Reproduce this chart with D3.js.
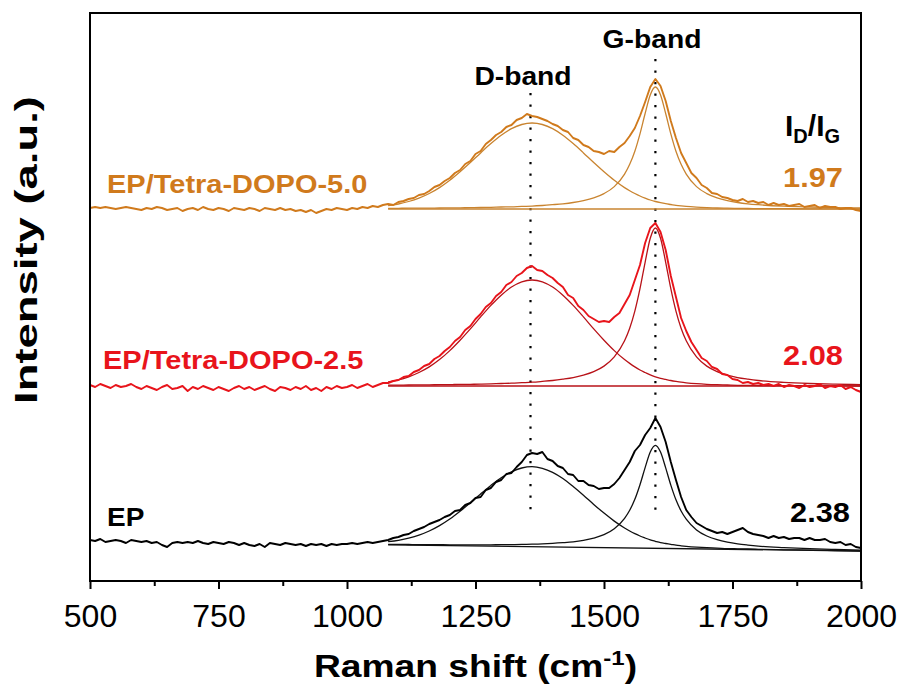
<!DOCTYPE html>
<html>
<head>
<meta charset="utf-8">
<script src="https://cdn.jsdelivr.net/npm/d3@7"></script>
<style>
  body { margin: 0; background: #fff; }
  svg { display: block; font-family: "Liberation Sans", Arial, sans-serif; }
</style>
</head>
<body>
<svg id="chart" width="901" height="684"></svg>
<script>
// Raman spectra, read every 10 cm-1 from 500 to 2000 (a.u., relative to each trace's own baseline)
var shift = d3.range(500, 2001, 10);

var dataEP = [
  8, 7, 9, 6, 7, 8, 7, 5, 8, 7,
  6, 7, 5, 6, 3, 1, 5, 6, 5, 6,
  5, 7, 5, 4, 6, 5, 4, 6, 5, 3,
  5, 3, 2, 4, 1, 5, 4, 3, 5, 4,
  3, 4, 2, 4, 3, 4, 2, 4, 3, 4,
  4, 5, 4, 5, 6, 5, 6, 7, 8, 10,
  11, 13, 14, 17, 19, 21, 24, 26, 28, 31,
  33, 37, 38, 43, 45, 50, 51, 58, 60, 66,
  68, 74, 75, 81, 86, 93, 95, 94, 96, 89,
  87, 82, 80, 74, 73, 67, 67, 63, 62, 59,
  60, 60, 64, 70, 78, 86, 97, 103, 113, 120,
  130, 121, 106, 86, 68, 51, 38, 31, 25, 22,
  19, 17, 15, 16, 14, 16, 18, 20, 16, 14,
  13, 12, 10, 12, 10, 11, 9, 10, 10, 8,
  10, 8, 8, 9, 6, 5, 6, 3, 4, 1,
  0];

var dataTetra25 = [
  1, -1, 2, 0, -2, 1, -1, 0, 2, -1,
  -3, 0, -2, -4, -1, 1, -3, -2, 0, -5,
  -1, -3, 0, -2, -4, -1, -3, -5, -2, 0,
  -3, -1, -4, -2, 0, -3, -5, -1, -2, -4,
  -1, -3, 0, -4, -2, -5, -1, -3, 0, -2,
  -1, 1, -2, 0, 2, -1, 1, 3, 3, 5,
  6, 9, 10, 14, 16, 20, 22, 27, 30, 35,
  39, 45, 49, 56, 60, 67, 72, 79, 83, 90,
  94, 101, 104, 110, 113, 118, 120, 116, 115, 111,
  108, 103, 99, 91, 88, 80, 76, 70, 67, 64,
  65, 64, 69, 73, 82, 91, 106, 121, 143, 158,
  163, 154, 136, 110, 89, 68, 55, 44, 36, 28,
  25, 19, 17, 12, 11, 7, 6, 3, 4, 2,
  3, 1, 2, 0, 2, -1, 1, 0, -2, 1,
  -1, 0, 2, -2, 0, -1, 1, -3, -1, -4,
  -6];

var dataTetra50 = [
  1, 2, 1, 2, 1, 0, 1, 2, 1, 0,
  -1, 1, 0, 2, 1, -1, 0, 1, -2, 0,
  1, -1, 2, 0, -1, 1, 0, -2, 1, 0,
  -1, 1, 0, -2, 1, 0, -1, 1, -1, 0,
  -2, -1, -3, -1, -4, -2, 0, -1, 1, 0,
  -1, 1, 0, 2, 1, 3, 2, 4, 5, 4,
  7, 8, 10, 11, 14, 15, 18, 22, 24, 28,
  31, 36, 39, 45, 48, 55, 58, 65, 69, 74,
  77, 82, 84, 89, 91, 95, 93, 92, 90, 88,
  85, 83, 79, 77, 71, 69, 64, 62, 58, 57,
  55, 58, 57, 62, 66, 73, 81, 93, 107, 122,
  130, 123, 108, 88, 71, 56, 46, 36, 31, 24,
  21, 16, 15, 12, 11, 9, 8, 10, 7, 8,
  6, 7, 4, 6, 4, 5, 3, 4, 5, 2,
  3, 4, 1, 3, 2, 2, 0, 1, 1, -1,
  -2];

// fitted D and G components
var fitShift = [1080, 1100, 1120, 1140, 1160, 1180, 1200, 1220, 1240, 1260, 1280, 1300,
  1320, 1340, 1360, 1380, 1400, 1420, 1440, 1460, 1480, 1500, 1520, 1540,
  1550, 1560, 1570, 1580, 1590, 1600, 1610, 1620, 1630, 1640, 1650, 1660,
  1680, 1700, 1720, 1740, 1760, 1780, 1800, 1850, 1900, 1950, 2000];

var fitD_EP = [6.3, 7.6, 9.9, 12.9, 17.0, 22.4, 29.0, 36.8, 45.2, 54.1, 62.6, 70.3,
  76.2, 80.0, 81.3, 79.7, 75.7, 69.5, 61.5, 52.8, 43.6, 34.9, 26.9, 20.0,
  17.0, 14.3, 12.0, 10.0, 8.1, 6.7, 5.4, 4.5, 3.7, 2.8, 2.2, 1.7,
  0.9, 0.3, -0.1, -0.6, -0.8, -1.0, -1.3, -1.8, -2.1, -2.6, -3.0];
var fitG_EP = [3.6, 3.6, 3.5, 3.4, 3.4, 3.3, 3.2, 3.2, 3.2, 3.1, 3.2, 3.3,
  3.4, 3.6, 3.8, 4.1, 4.6, 5.3, 6.2, 7.7, 9.9, 13.3, 19.2, 29.6,
  37.7, 48.7, 63.3, 80.4, 96.0, 102.7, 95.9, 80.1, 62.9, 48.2, 37.0, 28.8,
  18.1, 12.0, 8.3, 5.8, 4.1, 2.9, 1.9, 0.4, -0.7, -1.5, -2.1];

var fitD_25 = [4.2, 6.1, 9.2, 13.5, 19.1, 26.4, 35.4, 45.8, 57.1, 69.1, 80.6, 90.8,
  99.0, 104.2, 106, 104.2, 99.0, 90.8, 80.6, 69.1, 57.1, 45.8, 35.4, 26.4,
  22.6, 19.1, 16.0, 13.5, 11.1, 9.2, 7.7, 6.6, 5.5, 4.6, 3.8, 3.2,
  2.3, 1.7, 1.3, 1.0, 0.7, 0.6, 0.5, 0.3, 0.2, 0.1, 0];
var fitG_25 = [0.8, 0.9, 1.0, 1.1, 1.2, 1.3, 1.4, 1.6, 1.7, 1.9, 2.2, 2.5,
  2.8, 3.3, 3.8, 4.6, 5.5, 6.8, 8.4, 10.9, 14.4, 19.9, 29.1, 45.2,
  57.8, 74.9, 97.3, 123.7, 147.7, 158, 147.7, 123.7, 97.3, 74.9, 57.8, 45.2,
  29.1, 19.9, 14.4, 10.9, 8.4, 6.8, 5.5, 3.6, 2.5, 1.8, 1.4];

var fitD_50 = [3.4, 5.0, 7.5, 10.9, 15.5, 21.4, 28.7, 37.2, 46.4, 56.1, 65.4, 73.7,
  80.3, 84.5, 86, 84.5, 80.3, 73.7, 65.4, 56.1, 46.4, 37.2, 28.7, 21.4,
  18.3, 15.5, 13.0, 10.9, 9.0, 7.5, 6.3, 5.3, 4.5, 3.7, 3.1, 2.6,
  1.9, 1.4, 1.0, 0.8, 0.6, 0.5, 0.4, 0.3, 0.2, 0.1, 0];
var fitG_50 = [0.6, 0.7, 0.8, 0.8, 0.9, 1.0, 1.1, 1.2, 1.3, 1.5, 1.7, 2.0,
  2.2, 2.6, 2.9, 3.5, 4.3, 5.2, 6.5, 8.4, 11.1, 15.4, 22.4, 34.9,
  44.7, 57.8, 75.2, 95.5, 114.1, 122, 114.1, 95.5, 75.2, 57.8, 44.7, 34.9,
  22.4, 15.4, 11.1, 8.4, 6.5, 5.2, 4.3, 2.8, 2.0, 1.4, 1.1];

// fitted linear baselines (start / end of fit range)
var baseShift = [1080, 2000];
var base_EP = [3.1, -3.0];
var base_25 = [0, 0];
var base_50 = [0, 0];

var sampleNames = ["EP", "EP/Tetra-DOPO-2.5", "EP/Tetra-DOPO-5.0"];
var ratioLabels = ["2.38", "2.08", "1.97"];
var stackOffset = [33, 195, 372];
var bandNames = ["D-band", "G-band"];
var bandCenters = [1357, 1600];
var xTicks = [500, 750, 1000, 1250, 1500, 1750, 2000];
var xMinorTicks = [625, 875, 1125, 1375, 1625, 1875];

var dataColor = ["#000000", "#E8141B", "#D07A1C"];
var fitColor = ["#111111", "#B81218", "#C98430"];

var svg = d3.select("#chart");
var mLeft = 90, mTop = 13, mRight = 861, mBottom = 581;

var x = d3.scaleLinear().domain([500, 2000]).range([mLeft, mRight]);
var y = d3.scaleLinear().domain([0, 568]).range([mBottom, mTop]);

var series = [
  {data: dataEP, fitD: fitD_EP, fitG: fitG_EP, base: base_EP},
  {data: dataTetra25, fitD: fitD_25, fitG: fitG_25, base: base_25},
  {data: dataTetra50, fitD: fitD_50, fitG: fitG_50, base: base_50}
];

// dotted band markers
svg.append("line")
  .attr("x1", x(bandCenters[0])).attr("x2", x(bandCenters[0]))
  .attr("y1", 93).attr("y2", 512)
  .attr("stroke", "#000").attr("stroke-width", 2.2).attr("stroke-dasharray", "2.2,9.3");
svg.append("line")
  .attr("x1", x(bandCenters[1])).attr("x2", x(bandCenters[1]))
  .attr("y1", 59).attr("y2", 512)
  .attr("stroke", "#000").attr("stroke-width", 2.2).attr("stroke-dasharray", "2.2,9.3");

series.forEach(function(s, i){
  var off = stackOffset[i];

  var fitLine = d3.line()
    .x(function(d, j){ return x(fitShift[j]); })
    .y(function(d){ return y(d + off); })
    .curve(d3.curveMonotoneX);

  // baseline
  svg.append("path")
    .datum(s.base)
    .attr("d", d3.line().x(function(d, j){ return x(baseShift[j]); }).y(function(d){ return y(d + off); }))
    .attr("fill", "none").attr("stroke", fitColor[i]).attr("stroke-width", 1.3);

  svg.append("path").datum(s.fitD).attr("d", fitLine)
    .attr("fill", "none").attr("stroke", fitColor[i]).attr("stroke-width", 1.3);
  svg.append("path").datum(s.fitG).attr("d", fitLine)
    .attr("fill", "none").attr("stroke", fitColor[i]).attr("stroke-width", 1.3);

  // measured spectrum
  svg.append("path")
    .datum(s.data)
    .attr("d", d3.line()
      .x(function(d, j){ return x(shift[j]); })
      .y(function(d){ return y(d + off); }))
    .attr("fill", "none").attr("stroke", dataColor[i]).attr("stroke-width", 1.9)
    .attr("stroke-linejoin", "round");
});

// frame
svg.append("rect")
  .attr("x", mLeft).attr("y", mTop).attr("width", mRight - mLeft).attr("height", mBottom - mTop)
  .attr("fill", "none").attr("stroke", "#000").attr("stroke-width", 2);

// x axis
var xAxis = svg.append("g")
  .attr("transform", "translate(0," + mBottom + ")")
  .call(d3.axisBottom(x).tickValues(xTicks).tickSize(8).tickSizeOuter(0).tickFormat(d3.format("d")));
xAxis.select(".domain").remove();
xAxis.selectAll("line").attr("stroke-width", 2);
xAxis.selectAll("text")
  .attr("y", 46).attr("dy", 0)
  .attr("font-size", 32).attr("font-family", "'Liberation Sans', Arial, sans-serif").attr("fill", "#000");

var xMinor = svg.append("g")
  .attr("transform", "translate(0," + mBottom + ")")
  .call(d3.axisBottom(x).tickValues(xMinorTicks).tickSize(5).tickFormat(""));
xMinor.select(".domain").remove();
xMinor.selectAll("line").attr("stroke-width", 2);

// text helper: bold text, slightly stretched like the original
function label(txt, px, py, size, sx, anchor, color){
  return svg.append("text")
    .attr("transform", "translate(" + px + "," + py + ") scale(" + sx + ",1)")
    .attr("text-anchor", anchor)
    .attr("font-size", size).attr("font-weight", "bold")
    .attr("fill", color).text(txt);
}

label(sampleNames[2], 107, 193, 25, 1.16, "start", dataColor[2]);
label(sampleNames[1], 103, 369, 25, 1.16, "start", dataColor[1]);
label(sampleNames[0], 107, 526, 25, 1.12, "start", dataColor[0]);

label(ratioLabels[2], 843, 187, 28, 1.1, "end", dataColor[2]);
label(ratioLabels[1], 843, 365, 28, 1.1, "end", dataColor[1]);
label(ratioLabels[0], 850, 522, 28, 1.1, "end", dataColor[0]);

label(bandNames[0], 523, 85, 25, 1.13, "middle", "#000");
label(bandNames[1], 652, 48, 25, 1.13, "middle", "#000");

// I_D / I_G
var ratioHead = svg.append("text")
  .attr("x", 785).attr("y", 136)
  .attr("font-size", 30).attr("font-weight", "bold").attr("fill", "#000");
ratioHead.append("tspan").text("I");
ratioHead.append("tspan").attr("font-size", 20).attr("dy", 7).text("D");
ratioHead.append("tspan").attr("dy", -7).text("/I");
ratioHead.append("tspan").attr("font-size", 20).attr("dy", 7).text("G");

// axis titles
var xTitle = svg.append("text")
  .attr("transform", "translate(475.5,677) scale(1.2,1)")
  .attr("text-anchor", "middle")
  .attr("font-size", 31).attr("font-weight", "bold").attr("fill", "#000");
xTitle.append("tspan").text("Raman shift (cm");
xTitle.append("tspan").attr("font-size", 20).attr("dy", -12).text("-1");
xTitle.append("tspan").attr("dy", 12).text(")");

svg.append("text")
  .attr("transform", "translate(37,250) rotate(-90) scale(1.42,1)")
  .attr("text-anchor", "middle")
  .attr("font-size", 32).attr("font-weight", "bold").attr("fill", "#000")
  .text("Intensity (a.u.)");
</script>
</body>
</html>
